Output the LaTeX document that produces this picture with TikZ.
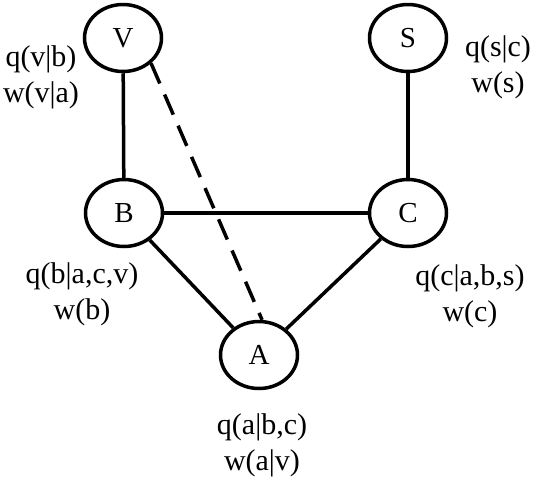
\documentclass[tikz,border=0pt]{standalone}
\usepackage{fontspec}
\setmainfont{Liberation Serif}
\usetikzlibrary{shapes.geometric}
\begin{document}
\begin{tikzpicture}[x=1pt, y=-1pt,
    var/.style={draw, ellipse, line width=3.5pt, inner sep=0pt, minimum width=77pt, minimum height=67pt, font=\fontsize{29}{34}\selectfont},
    lbl/.style={align=center, font=\fontsize{30}{36}\selectfont},
    edge/.style={line width=3.5pt}]
    \useasboundingbox (0,0) rectangle (538,480);

    \node[var] (V) at (123,38) {V};
    \node[var] (S) at (408,38) {S};
    \node[var] (B) at (124,213) {B};
    \node[var] (C) at (408,213) {C};
    \node[var] (A) at (259,355) {A};

    \draw[edge] (V) -- (B);
    \draw[edge] (S) -- (C);
    \draw[edge] (B) -- (C);
    \draw[edge] (B) -- (A);
    \draw[edge] (C) -- (A);
    \draw[edge, dash pattern=on 22pt off 12pt] (V.-42) -- (A.85);

    \node[lbl] (Vl) at (41,77) {q(v|b) \\ w(v|a)};
    \node[lbl] (Sl) at (498,67) {q(s|c) \\ w(s)};
    \node[lbl] (Bl) at (82,294) {q(b|a,c,v) \\ w(b)};
    \node[lbl] (Cl) at (470,296) {q(c|a,b,s) \\ w(c)};
    \node[lbl] (Al) at (262,445) {q(a|b,c) \\ w(a|v)};
\end{tikzpicture}
\end{document}
